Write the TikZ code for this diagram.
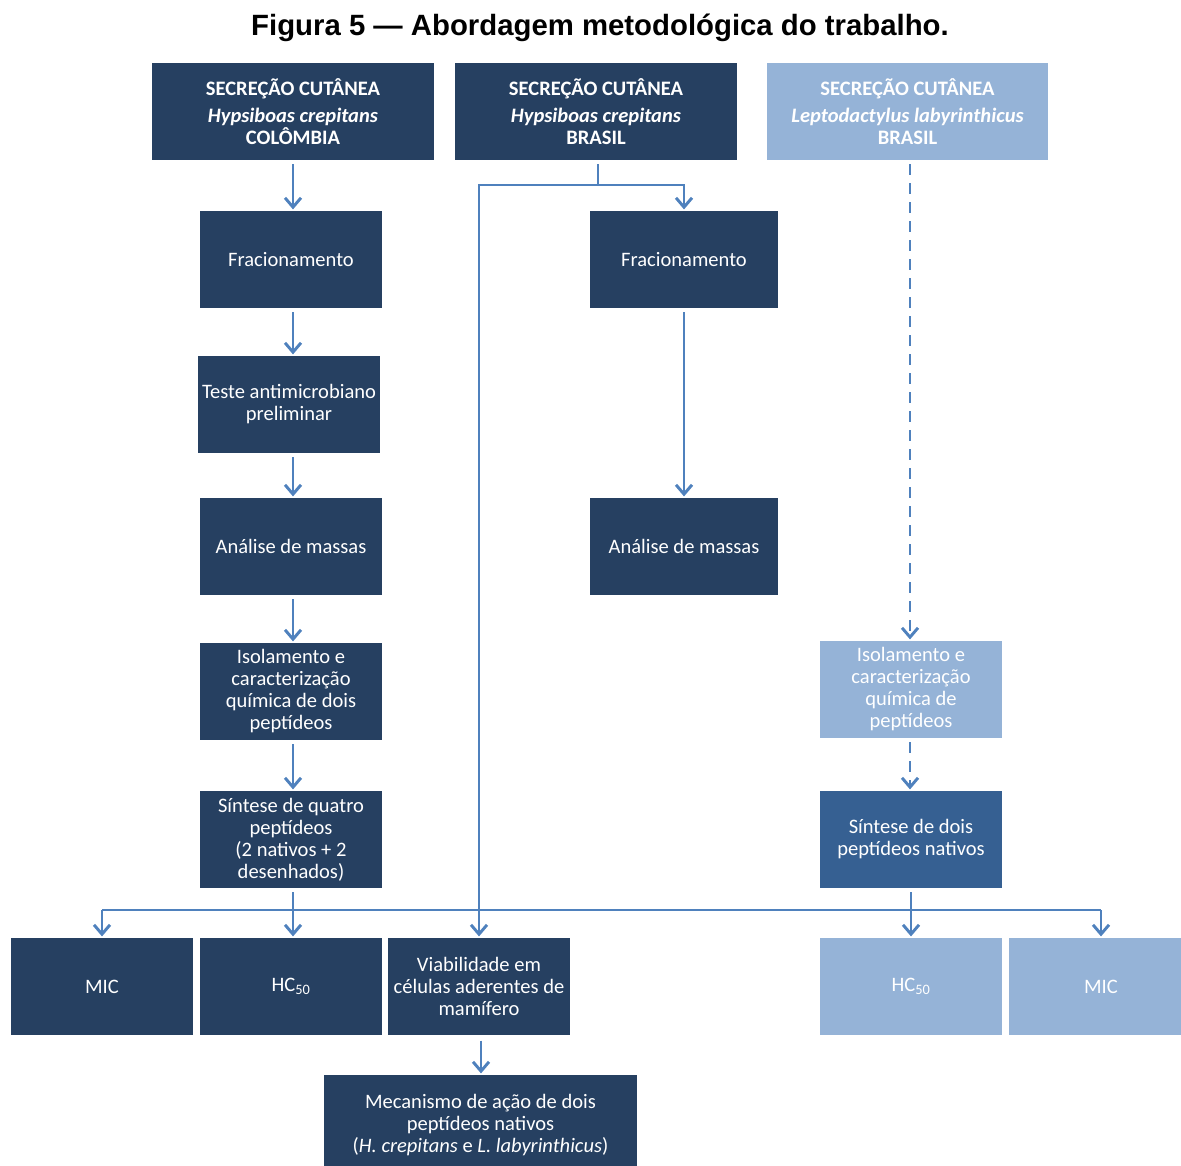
\documentclass[tikz,border=0pt]{standalone}
\usepackage{fontspec}
\setmainfont{Carlito}
\newfontfamily\arialfont{Liberation Sans}
\usetikzlibrary{arrows.meta}
\definecolor{navy}{RGB}{38,64,97}
\definecolor{lightb}{RGB}{149,179,215}
\definecolor{midb}{RGB}{54,96,146}
\definecolor{arrc}{RGB}{79,129,189}
\begin{document}
\begin{tikzpicture}[x=0.75pt,y=-0.75pt,
  box/.style={fill=navy,text=white,align=center,inner sep=0pt,minimum height=72.75pt,minimum width=136.5pt,font=\fontsize{15.4}{16.5}\selectfont},
  lbox/.style={box,fill=lightb},
  mbox/.style={box,fill=midb},
  conn/.style={draw=arrc,line width=2.2pt},
  arr/.style={conn,-{Straight Barb[length=7pt,width=12pt,line width=2.2pt]}},
  dsh/.style={dash pattern=on 8.25pt off 6pt}
]
\useasboundingbox (0,0) rectangle (1181,1165);
\node[font=\arialfont\bfseries\fontsize{22}{26}\selectfont] (title) at (600,28) {Figura 5 — Abordagem metodológica do trabalho.};

\node[box,minimum width=211.5pt] (A1) at (293,111.5) {\textbf{SECREÇÃO CUTÂNEA}\\[4pt]\textbf{\textit{Hypsiboas crepitans}}\\\textbf{COLÔMBIA}};
\node[box,minimum width=211.5pt] (A2) at (596,111.5) {\textbf{SECREÇÃO CUTÂNEA}\\[4pt]\textbf{\textit{Hypsiboas crepitans}}\\\textbf{BRASIL}};
\node[lbox,minimum width=210.75pt] (A3) at (907.5,111.5) {\textbf{SECREÇÃO CUTÂNEA}\\[4pt]\textbf{\textit{Leptodactylus labyrinthicus}}\\\textbf{BRASIL}};

\node[box] (FL) at (291,259.5) {Fracionamento};
\node[box] (TL) at (289,404.5) {Teste antimicrobiano\\preliminar};
\node[box] (AL) at (291,546.5) {Análise de massas};
\node[box] (IL) at (291,691.5) {Isolamento e\\caracterização\\química de dois\\peptídeos};
\node[box] (SL) at (291,839.5) {Síntese de quatro\\peptídeos\\(2 nativos + 2\\desenhados)};

\node[box,minimum width=141pt] (FM) at (684,259.5) {Fracionamento};
\node[box,minimum width=141pt] (AM) at (684,546.5) {Análise de massas};

\node[lbox] (IR) at (911,689.5) {Isolamento e\\caracterização\\química de\\peptídeos};
\node[mbox] (SR) at (911,839.5) {Síntese de dois\\peptídeos nativos};

\node[box] (MICL) at (102,986.5) {MIC};
\node[box] (HCL) at (291,986.5) {HC\textsubscript{50}};
\node[box] (VB) at (479,986.5) {Viabilidade em\\células aderentes de\\mamífero};
\node[lbox] (HCR) at (911,986.5) {HC\textsubscript{50}};
\node[lbox,minimum width=138pt] (MICR) at (1101,986.5) {MIC};
\node[box,minimum width=234.75pt,minimum height=75pt] (MEC) at (480.5,1125) {Mecanismo de ação de dois\\peptídeos nativos\\(\textit{H. crepitans} e \textit{L. labyrinthicus})};

% left column
\draw[arr,shorten <=3pt,shorten >=1pt] (293,0 |- A1.south) -- (293,0 |- FL.north);
\draw[arr,shorten <=3pt,shorten >=1pt] (293,0 |- FL.south) -- (293,0 |- TL.north);
\draw[arr,shorten <=3pt,shorten >=1pt] (293,0 |- TL.south) -- (293,0 |- AL.north);
\draw[arr,shorten <=3pt,shorten >=1pt] (293,0 |- AL.south) -- (293,0 |- IL.north);
\draw[arr,shorten <=3pt,shorten >=1pt] (293,0 |- IL.south) -- (293,0 |- SL.north);
\draw[arr,shorten <=3pt,shorten >=1pt] (293,0 |- SL.south) -- (293,0 |- HCL.north);

% middle
\coordinate (mj) at (598,185);
\draw[conn,shorten <=3pt] (598,0 |- A2.south) -- (mj);
\draw[arr,shorten >=1pt] (mj) -| (FM.north);
\draw[arr,shorten >=1pt] (mj) -| (VB.north);
\draw[arr,shorten <=3pt,shorten >=1pt] (FM.south) -- (AM.north);
\draw[arr,shorten <=4pt,shorten >=1pt] (481,0 |- VB.south) -- (481,0 |- MEC.north);

% right
\draw[arr,dsh,shorten <=3pt,shorten >=1pt] (910,0 |- A3.south) -- (910,0 |- IR.north);
\draw[arr,dsh,shorten <=3pt,shorten >=1pt] (910,0 |- IR.south) -- (910,0 |- SR.north);
\draw[arr,shorten <=3pt,shorten >=1pt] (911,0 |- SR.south) -- (911,0 |- HCR.north);

% bottom bus
\coordinate (bl) at (102,910);
\coordinate (br) at (1101,910);
\draw[conn] (bl) -- (br);
\draw[arr,shorten >=1pt] (bl) -- (bl |- MICL.north);
\draw[arr,shorten >=1pt] (br) -- (br |- MICR.north);
\end{tikzpicture}
\end{document}
